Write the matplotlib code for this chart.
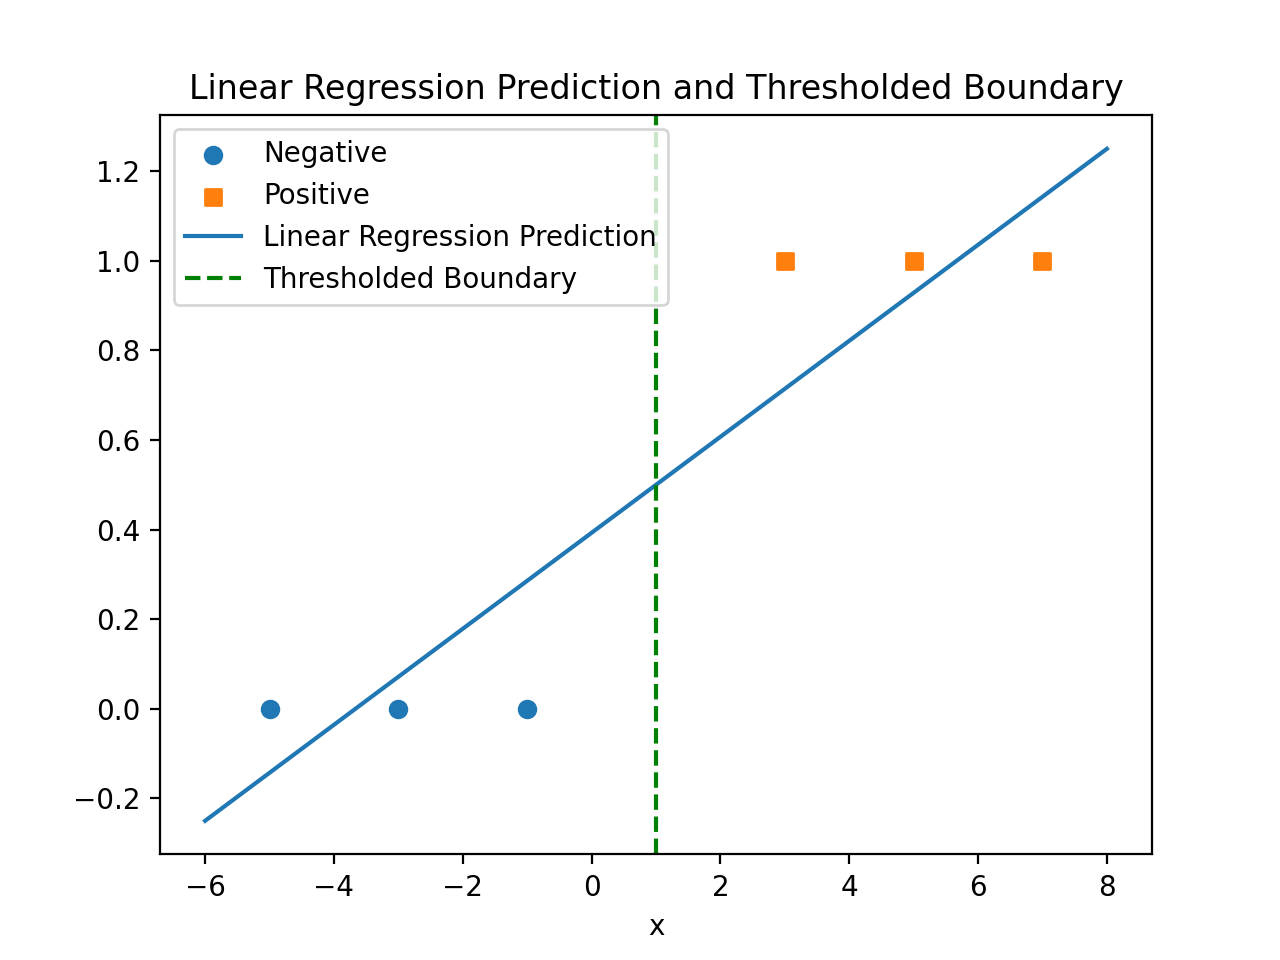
import matplotlib
matplotlib.use("Agg")
import matplotlib.pyplot as plt

# data
neg_x = [-5, -3, -1]
neg_y = [0, 0, 0]
pos_x = [3, 5, 7]
pos_y = [1, 1, 1]
line_x = [-6, 8]
line_y = [-0.25, 1.25]
boundary_x = 1.0

fig = plt.figure(figsize=(6.4, 4.8), dpi=200)
plt.scatter(neg_x, neg_y, marker='o', label='Negative')
plt.scatter(pos_x, pos_y, marker='s', label='Positive')
plt.plot(line_x, line_y, label='Linear Regression Prediction')
plt.axvline(boundary_x, color='green', linestyle='--', label='Thresholded Boundary')
plt.xlabel('x')
plt.title('Linear Regression Prediction and Thresholded Boundary')
plt.legend(loc='upper left')
plt.savefig('out.png')
